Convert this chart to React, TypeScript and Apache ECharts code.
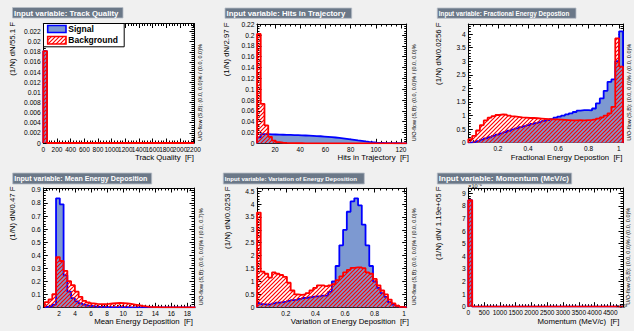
import { useEffect, useRef } from 'react';
import * as echarts from 'echarts';

const FONT = '"Liberation Sans", Arial, Helvetica, sans-serif';

// ---------------- DATA ----------------
// Track Quality (bin width 55.1)
const trackQualityBinStart = 0;
const trackQualityBinWidth = 55.1;
const trackQualitySignal = [0.01815, 0, 0, 0, 0, 0, 0, 0, 0, 0, 0, 0, 0, 0, 0, 0, 0, 0, 0, 0, 0, 0, 0, 0, 0, 0, 0, 0, 0, 0, 0, 0, 0, 0, 0, 0, 0, 0, 0, 0];
const trackQualityBackground = [0.01815, 0, 0, 0, 0, 0, 0, 0, 0, 0, 0, 0, 0, 0, 0, 0, 0, 0, 0, 0, 0, 0, 0, 0, 0, 0, 0, 0, 0, 0, 0, 0, 0, 0, 0, 0, 0, 0, 0, 0];

// Hits in Trajectory (bin width 2.97)
const hitsBinStart = 5.7;
const hitsBinWidth = 2.97;
const hitsSignal = [0.011, 0.017, 0.0168, 0.0165, 0.0163, 0.016, 0.0158, 0.0156, 0.0154, 0.0152, 0.015, 0.0147, 0.0144, 0.0141, 0.0138, 0.0134, 0.013, 0.0125, 0.012, 0.0114, 0.0107, 0.01, 0.0092, 0.0083, 0.0073, 0.0063, 0.0053, 0.0044, 0.0035, 0.0027, 0.002, 0.0014, 0.0009, 0.0006, 0.0004, 0.0002, 0.0001, 0.0001, 0, 0];
const hitsBackground = [0.202, 0.073, 0.033, 0.012, 0.005, 0.002, 0.001, 0.0006, 0.0003, 0.0002, 0.0001, 0.0001, 0, 0, 0, 0, 0, 0, 0, 0, 0, 0, 0, 0, 0, 0, 0, 0, 0, 0, 0, 0, 0, 0, 0, 0, 0, 0, 0, 0];

// Fractional Energy Deposition (bin width 0.0256)
const fracBinStart = 0.004;
const fracBinWidth = 0.0256;
const fracSignal = [0.01, 0.03, 0.06, 0.11, 0.16, 0.2, 0.25, 0.3, 0.34, 0.39, 0.44, 0.49, 0.53, 0.57, 0.61, 0.65, 0.69, 0.72, 0.76, 0.8, 0.83, 0.87, 0.92, 0.96, 1.0, 1.04, 1.08, 1.13, 1.18, 1.2, 1.2, 1.19, 1.26, 1.45, 1.63, 1.91, 2.24, 2.33, 3.0, 4.1];
const fracBackground = [0.13, 0.25, 0.45, 0.65, 0.82, 0.92, 0.98, 1.02, 1.04, 1.03, 1.0, 0.97, 0.95, 0.93, 0.92, 0.91, 0.91, 0.9, 0.89, 0.88, 0.87, 0.86, 0.86, 0.85, 0.84, 0.83, 0.82, 0.82, 0.83, 0.82, 0.83, 0.84, 0.86, 0.89, 0.93, 1.0, 1.08, 1.32, 3.84, 2.8];

// Mean Energy Deposition (bin width 0.47)
const meanBinStart = 0.21;
const meanBinWidth = 0.47;
const meanSignal = [0.005, 0.008, 0.02, 0.836, 0.79, 0.245, 0.12, 0.07, 0.045, 0.03, 0.02, 0.013, 0.008, 0.005, 0.004, 0.003, 0.002, 0.002, 0.001, 0.001, 0.001, 0.0005, 0, 0, 0, 0, 0, 0, 0, 0, 0, 0, 0, 0, 0, 0, 0, 0, 0, 0];
const meanBackground = [0.04, 0.06, 0.1, 0.385, 0.355, 0.28, 0.2, 0.17, 0.12, 0.08, 0.05, 0.038, 0.03, 0.026, 0.024, 0.024, 0.026, 0.029, 0.032, 0.033, 0.032, 0.03, 0.026, 0.021, 0.016, 0.011, 0.007, 0.004, 0.002, 0.001, 0, 0, 0, 0, 0, 0, 0, 0, 0, 0];

// Variation of Energy Deposition (bin width 0.0253)
const varBinStart = 0.005;
const varBinWidth = 0.0253;
const varSignal = [0.15, 0.12, 0.1, 0.12, 0.15, 0.18, 0.2, 0.22, 0.25, 0.28, 0.3, 0.33, 0.36, 0.38, 0.4, 0.42, 0.42, 0.45, 0.45, 0.6, 1.0, 1.6, 2.4, 3.0, 3.7, 4.1, 4.22, 3.95, 3.2, 2.4, 1.6, 1.0, 0.75, 0.55, 0.4, 0.2, 0.1, 0.05, 0.02, 0];
const varBackground = [3.67, 1.38, 1.3, 1.15, 1.35, 1.3, 1.25, 1.18, 0.95, 0.65, 0.5, 0.48, 0.5, 0.55, 0.65, 0.75, 0.85, 0.85, 0.82, 0.85, 0.9, 1.05, 1.2, 1.35, 1.45, 1.53, 1.55, 1.55, 1.52, 1.35, 1.3, 1.1, 0.85, 0.65, 0.5, 0.3, 0.15, 0.06, 0.02, 0];

// Momentum (MeV/c)
const momentumBinStart = 0;
const momentumBinWidth = 122500;
const momentumSignal = [8.45e-6, 0, 0, 0, 0, 0, 0, 0, 0, 0, 0, 0, 0, 0, 0, 0, 0, 0, 0, 0, 0, 0, 0, 0, 0, 0, 0, 0, 0, 0, 0, 0, 0, 0, 0, 0, 0, 0, 0, 0];
const momentumBackground = [8.45e-6, 0, 0, 0, 0, 0, 0, 0, 0, 0, 0, 0, 0, 0, 0, 0, 0, 0, 0, 0, 0, 0, 0, 0, 0, 0, 0, 0, 0, 0, 0, 0, 0, 0, 0, 0, 0, 0, 0, 0];

const titles = [
  'Input variable: Track Quality',
  'Input variable: Hits in Trajectory',
  'Input variable: Fractional Energy Depostion',
  'Input variable: Mean Energy Deposition',
  'Input variable: Variation of Energy Deposition',
  'Input variable: Momentum (MeV/c)',
];
const yTitles = ['(1/N) dN/55.1 F', '(1/N) dN/2.97 F', '(1/N) dN/0.0256 F', '(1/N) dN/0.47 F', '(1/N) dN/0.0253 F', '(1/N) dN/ 1.19e+05 F'];
const xTitles = ['Track Quality  [F]', 'Hits in Trajectory  [F]', 'Fractional Energy Depostion  [F]', 'Mean Energy Deposition  [F]', 'Variation of Energy Deposition  [F]', 'Momentum (MeV/c)  [F]'];
const uoTexts = [
  'U/O-flow (S,B): (0.0, 0.0)% / (0.0, 0.0)%',
  'U/O-flow (S,B): (0.0, 0.0)% / (0.0, 0.0)%',
  'U/O-flow (S,B): (0.0, 0.0)% / (0.0, 0.0)%',
  'U/O-flow (S,B): (0.0, 0.0)% / (0.0, 0.7)%',
  'U/O-flow (S,B): (0.0, 0.0)% / (0.0, 0.0)%',
  'U/O-flow (S,B): (0.0, 0.0)% / (0.0, 0.0)%',
];

// ---------------- LAYOUT ----------------
type Panel = {
  grid: [number, number, number, number];
  xMin: number; xMax: number; xInterval: number; xFixed: boolean; xSplit?: number; xScale: number;
  yMax: number; yInterval: number; yScale: number;
  binStart: number; binWidth: number; signal: number[]; background: number[];
  titleBox: [number, number, number, number]; titleSize: number;
  yTitleX: number; xTitleRight: number; uoX: number;
};

const panels: Panel[] = [
  {
    grid: [43.3, 23.5, 150.7, 119.5], xMin: 0, xMax: 2204, xInterval: 200, xFixed: true, xScale: 1,
    yMax: 0.0236, yInterval: 0.002, yScale: 1,
    binStart: trackQualityBinStart, binWidth: trackQualityBinWidth, signal: trackQualitySignal, background: trackQualityBackground,
    titleBox: [12.5, 7.5, 110.5, 10.5], titleSize: 7.8, yTitleX: 12.5, xTitleRight: 194, uoX: 200,
  },
  {
    grid: [257, 24, 149.7, 119.3], xMin: 5.7, xMax: 124.5, xInterval: 20, xFixed: false, xSplit: 6, xScale: 1,
    yMax: 0.2205, yInterval: 0.02, yScale: 1,
    binStart: hitsBinStart, binWidth: hitsBinWidth, signal: hitsSignal, background: hitsBackground,
    titleBox: [225, 8, 126.7, 10.3], titleSize: 7.8, yTitleX: 226, xTitleRight: 409, uoX: 414,
  },
  {
    grid: [468.3, 24, 154.7, 118.7], xMin: 0.004, xMax: 1.028, xInterval: 0.2, xFixed: false, xSplit: 5, xScale: 1,
    yMax: 4.37, yInterval: 0.5, yScale: 1,
    binStart: fracBinStart, binWidth: fracBinWidth, signal: fracSignal, background: fracBackground,
    titleBox: [437.3, 8, 138.7, 10.3], titleSize: 6.3, yTitleX: 438.3, xTitleRight: 622.5, uoX: 628.5,
  },
  {
    grid: [43.3, 188, 150.7, 119.3], xMin: 0.03, xMax: 18.83, xInterval: 2, xFixed: false, xSplit: 9, xScale: 1,
    yMax: 0.915, yInterval: 0.1, yScale: 1,
    binStart: meanBinStart, binWidth: meanBinWidth, signal: meanSignal, background: meanBackground,
    titleBox: [12.7, 173, 139, 11], titleSize: 7.1, yTitleX: 12.5, xTitleRight: 193, uoX: 200.5,
  },
  {
    grid: [257, 188, 149.7, 119.3], xMin: 0.005, xMax: 1.017, xInterval: 0.2, xFixed: false, xSplit: 5, xScale: 1,
    yMax: 4.62, yInterval: 0.5, yScale: 1,
    binStart: varBinStart, binWidth: varBinWidth, signal: varSignal, background: varBackground,
    titleBox: [223.3, 173, 141, 11], titleSize: 6.1, yTitleX: 227.5, xTitleRight: 409, uoX: 414,
  },
  {
    grid: [468.3, 188, 154.7, 118.7], xMin: 0, xMax: 4.9e6, xInterval: 5e5, xFixed: true, xScale: 1000,
    yMax: 9.42e-6, yInterval: 1e-6, yScale: 1e-6,
    binStart: momentumBinStart, binWidth: momentumBinWidth, signal: momentumSignal, background: momentumBackground,
    titleBox: [437.3, 173, 134.4, 11], titleSize: 8.0, yTitleX: 438.3, xTitleRight: 619.5, uoX: 628,
  },
];

function stepPoints(start: number, width: number, values: number[]): number[][] {
  const pts: number[][] = [[start, 0]];
  values.forEach((v, i) => pts.push([start + i * width, v]));
  const end = start + values.length * width;
  pts.push([end, values[values.length - 1]]);
  pts.push([end, 0]);
  return pts;
}

const fmt = (interval: number, scale: number) => (v: number) => {
  const k = v / interval;
  if (Math.abs(k - Math.round(k)) > 1e-6) return '';
  return String(+((Math.round(k) * interval) / scale).toPrecision(6));
};

function makeHatch(): HTMLCanvasElement {
  const c = document.createElement('canvas');
  c.width = 4;
  c.height = 4;
  const ctx = c.getContext('2d')!;
  ctx.strokeStyle = '#ff0000';
  ctx.lineWidth = 1.2;
  ctx.beginPath();
  ctx.moveTo(0, 4); ctx.lineTo(4, 0);
  ctx.moveTo(-1, 1); ctx.lineTo(1, -1);
  ctx.moveTo(3, 5); ctx.lineTo(5, 3);
  ctx.stroke();
  return c;
}

function buildOption() {
  const hatch = { image: makeHatch(), repeat: 'repeat', imageWidth: 4, imageHeight: 4 };
  const tickStyle = { color: '#000', width: 1 };

  const mkX = (p: Panel, i: number, pos: 'bottom' | 'top') => ({
    type: 'value', gridIndex: i, position: pos, min: p.xMin, max: p.xMax,
    ...(p.xFixed ? { interval: p.xInterval } : { splitNumber: p.xSplit }),
    axisLine: { show: true, onZero: false, lineStyle: { color: '#000', width: 1 } },
    axisTick: { show: true, inside: true, length: 4.5, lineStyle: tickStyle },
    minorTick: { show: true, splitNumber: 5, length: 2.5, lineStyle: tickStyle },
    splitLine: { show: false }, minorSplitLine: { show: false },
    axisLabel: pos === 'bottom'
      ? { show: true, fontSize: 6.5, fontFamily: FONT, color: '#000', margin: 2.5, formatter: fmt(p.xInterval, p.xScale) }
      : { show: false },
    silent: true,
  });
  const mkY = (p: Panel, i: number, pos: 'left' | 'right') => ({
    type: 'value', gridIndex: i, position: pos, min: 0, max: p.yMax, interval: p.yInterval,
    axisLine: { show: true, onZero: false, lineStyle: { color: '#000', width: 1 } },
    axisTick: { show: true, inside: true, length: 4.5, lineStyle: tickStyle },
    minorTick: { show: true, splitNumber: 5, length: 2.5, lineStyle: tickStyle },
    splitLine: { show: false }, minorSplitLine: { show: false },
    axisLabel: pos === 'left'
      ? { show: true, fontSize: 6.7, fontFamily: FONT, color: '#000', margin: 2.5, formatter: fmt(p.yInterval, p.yScale) }
      : { show: false },
    silent: true,
  });

  const series: any[] = [];
  panels.forEach((p, i) => {
    series.push({
      type: 'line', xAxisIndex: i * 2, yAxisIndex: i * 2, step: 'end', symbol: 'none', silent: true, z: 2,
      data: stepPoints(p.binStart, p.binWidth, p.signal),
      lineStyle: { color: '#0000ff', width: 1.8 },
      areaStyle: { color: '#7d99d1', opacity: 1 },
    });
    series.push({
      type: 'line', xAxisIndex: i * 2, yAxisIndex: i * 2, step: 'end', symbol: 'none', silent: true, z: 3,
      data: stepPoints(p.binStart, p.binWidth, p.background),
      lineStyle: { color: '#ff0000', width: 1.8 },
      areaStyle: { color: hatch, opacity: 1 },
    });
  });

  const txt = (x: number, y: number, text: string, size: number, o: any = {}) => ({
    type: 'text', x, y, rotation: o.rotation || 0, z: o.z || 100,
    style: {
      text, fontSize: size, fontFamily: FONT, fontWeight: o.bold ? 'bold' : 'normal', fill: o.fill || '#000',
      textAlign: o.align || 'left', align: o.align || 'left',
      textVerticalAlign: 'middle', verticalAlign: 'middle',
    },
  });

  const elements: any[] = [];
  panels.forEach((p, i) => {
    const [, t, , h] = p.grid;
    const [bx, by, bw, bh] = p.titleBox;
    elements.push({ type: 'rect', z: 100, shape: { x: bx, y: by, width: bw, height: bh }, style: { fill: '#6b7888', stroke: '#b8bec6', lineWidth: 0.8 } });
    elements.push(txt(bx + 1.5, by + bh / 2 + 0.3, titles[i], p.titleSize, { bold: true, fill: '#ffffff', z: 101 }));
    elements.push(txt(p.yTitleX, t - 1.5, yTitles[i], 7.8, { align: 'right', rotation: Math.PI / 2 }));
    elements.push(txt(p.xTitleRight, t + h + 14.5, xTitles[i], 7.8, { align: 'right' }));
    elements.push(txt(p.uoX, t + h - 2, uoTexts[i], 5.5, { rotation: Math.PI / 2 }));
  });
  // exponent labels of the momentum panel
  elements.push(txt(468.3, 186, '×10⁻⁶', 5.5, { z: 99 }));
  elements.push(txt(616, 305.5, '×10³', 5.5, { z: 99 }));

  // legend (panel 1)
  elements.push({ type: 'rect', z: 110, shape: { x: 43.5, y: 23.5, width: 80.7, height: 23.3 }, style: { fill: '#ffffff', stroke: '#000', lineWidth: 1 } });
  elements.push({ type: 'rect', z: 111, shape: { x: 47.7, y: 25.5, width: 18.3, height: 7 }, style: { fill: '#7d99d1', stroke: '#0000ff', lineWidth: 1.6 } });
  elements.push({ type: 'rect', z: 111, shape: { x: 47.7, y: 36.5, width: 18.3, height: 7.5 }, style: { fill: hatch, stroke: '#ff0000', lineWidth: 1.6 } });
  elements.push(txt(68.3, 29, 'Signal', 8.5, { bold: true, z: 112 }));
  elements.push(txt(68.3, 40.3, 'Background', 8.5, { bold: true, z: 112 }));

  return {
    animation: false,
    backgroundColor: '#f0f0f0',
    grid: panels.map((p) => ({ left: p.grid[0], top: p.grid[1], width: p.grid[2], height: p.grid[3], show: true, backgroundColor: '#ffffff', borderWidth: 0, containLabel: false })),
    xAxis: panels.flatMap((p, i) => [mkX(p, i, 'bottom'), mkX(p, i, 'top')]),
    yAxis: panels.flatMap((p, i) => [mkY(p, i, 'left'), mkY(p, i, 'right')]),
    series,
    graphic: { elements },
  };
}

export default function App() {
  const ref = useRef<HTMLDivElement>(null);
  useEffect(() => {
    const chart = echarts.init(ref.current!, undefined, { renderer: 'svg' });
    chart.setOption(buildOption() as any);
    return () => chart.dispose();
  }, []);
  return <div ref={ref} style={{ position: 'fixed', left: 0, top: 0, width: 634, height: 331 }} />;
}
